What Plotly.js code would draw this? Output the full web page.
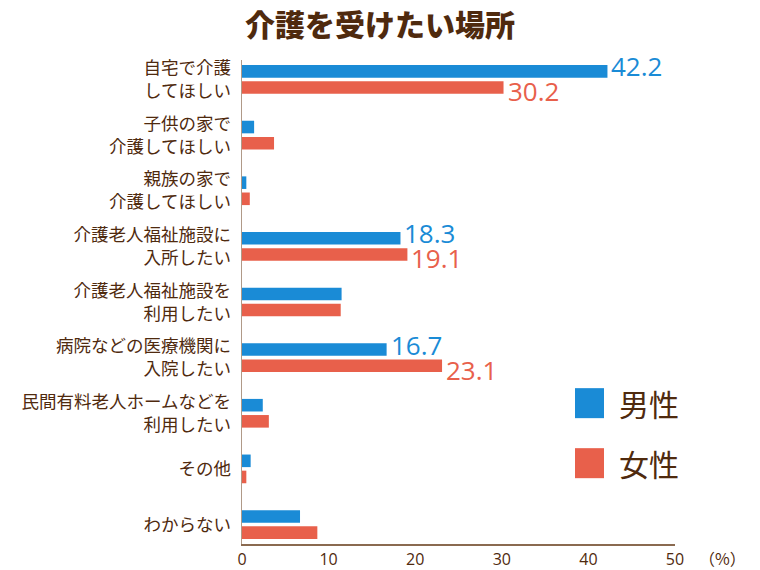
<!DOCTYPE html>
<html><head><meta charset="utf-8">
<script src="https://cdn.plot.ly/plotly-3.0.1.min.js"></script>
<style>html,body{margin:0;padding:0;background:#fff}#chart{width:760px;height:570px}</style>
</head><body><div id="chart"></div>
<script>
const categories = [
  "自宅で介護<br>してほしい",
  "子供の家で<br>介護してほしい",
  "親族の家で<br>介護してほしい",
  "介護老人福祉施設に<br>入所したい",
  "介護老人福祉施設を<br>利用したい",
  "病院などの医療機関に<br>入院したい",
  "民間有料老人ホームなどを<br>利用したい",
  "その他",
  "わからない"
];
const seriesNames = ["男性", "女性"];
const maleValues   = [42.2, 1.4, 0.5, 18.3, 11.5, 16.7, 2.4, 1.0, 6.7];
const femaleValues = [30.2, 3.7, 0.9, 19.1, 11.4, 23.1, 3.1, 0.5, 8.7];
const maleLabels   = ["42.2", "", "", "18.3", "", "16.7", "", "", ""];
const femaleLabels = ["30.2", "", "", "19.1", "", "23.1", "", "", ""];
const xTicks = [0, 10, 20, 30, 40, 50];
const unitLabel = "（%）";
const titleText = "介護を受けたい場所";

const BLUE = "#1a8bd6", RED = "#e8604b", BROWN = "#4f2a0e";
const jp = "'Noto Sans CJK JP', 'Noto Sans', sans-serif";
const num = "'Open Sans', Lato, sans-serif";

function barTrace(name, vals, color) {
  return {
    type: "bar", orientation: "h", name: name,
    y: categories, x: vals,
    marker: {color: color, line: {width: 0}},
    hoverinfo: "x+name", showlegend: false
  };
}

const data = [
  barTrace(seriesNames[0], maleValues, BLUE),
  barTrace(seriesNames[1], femaleValues, RED)
];

const valueNotes = [];
function addNotes(vals, labels, color, shift) {
  labels.forEach((t, i) => {
    if (!t) return;
    valueNotes.push({text: t, x: vals[i], y: categories[i], xref: "x", yref: "y",
      xanchor: "left", yanchor: "middle", xshift: 2, yshift: shift, showarrow: false,
      font: {family: num, size: 26, color: color}});
  });
}
addNotes(maleValues, maleLabels, BLUE, 13);
addNotes(femaleValues, femaleLabels, RED, -12);

const layout = {
  width: 760, height: 570,
  margin: {l: 242, r: 85, t: 60, b: 26},
  paper_bgcolor: "#fff", plot_bgcolor: "#fff",
  barmode: "group", bargap: 0.42, bargroupgap: 0.22,
  title: {text: titleText, font: {family: jp, size: 30, color: BROWN, weight: 900},
          x: 0.5, xref: "container", xanchor: "center", y: 1 - 25/570, yref: "container", yanchor: "middle"},
  xaxis: {
    range: [0, 50], tickvals: xTicks, ticktext: xTicks.map(String),
    showgrid: false, zeroline: false, ticks: "", ticklabelstandoff: 0,
    showline: true, linecolor: "#8a6a50", linewidth: 1.5,
    tickfont: {family: num, size: 16, color: BROWN}
  },
  yaxis: {
    type: "category", range: [8.35, -0.35],
    showgrid: false, zeroline: false, ticks: "", ticklabelstandoff: 6,
    showline: true, linecolor: "#b09a88", linewidth: 1.5,
    tickfont: {family: jp, size: 17.5, color: BROWN}
  },
  shapes: [
    {type: "rect", xref: "paper", yref: "paper", x0: 0.769, x1: 0.836, y0: 0.260, y1: 0.322,
     fillcolor: BLUE, line: {width: 0}},
    {type: "rect", xref: "paper", yref: "paper", x0: 0.769, x1: 0.836, y0: 0.136, y1: 0.198,
     fillcolor: RED, line: {width: 0}}
  ],
  annotations: valueNotes.concat([
    {text: seriesNames[0], xref: "paper", yref: "paper", x: 0.866, y: 0.291, xanchor: "left", yanchor: "middle",
     showarrow: false, font: {family: jp, size: 30, color: BROWN}},
    {text: seriesNames[1], xref: "paper", yref: "paper", x: 0.866, y: 0.167, xanchor: "left", yanchor: "middle",
     showarrow: false, font: {family: jp, size: 30, color: BROWN}},
    {text: unitLabel, xref: "paper", yref: "paper", x: 1.11, y: 0, yshift: -14, xanchor: "center", yanchor: "middle",
     showarrow: false, font: {family: jp, size: 16, color: BROWN}}
  ])
};

Plotly.newPlot("chart", data, layout, {displayModeBar: false, staticPlot: true});
</script></body></html>
